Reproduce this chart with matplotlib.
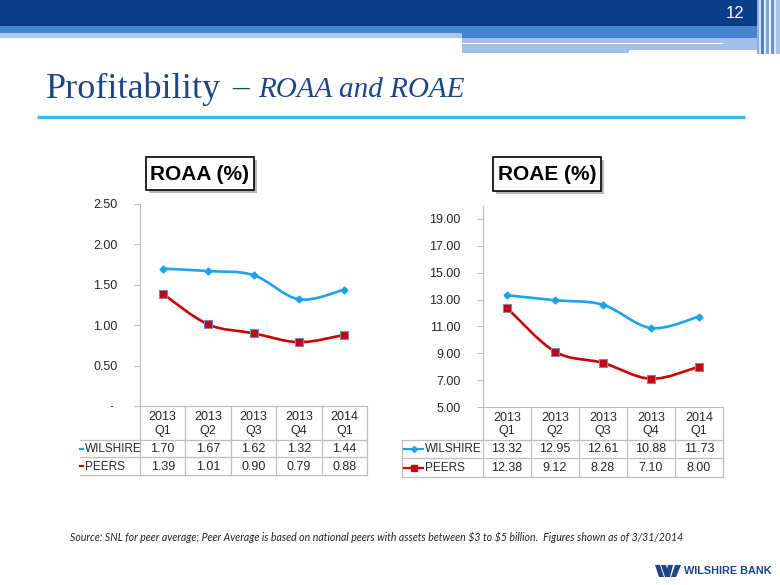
import numpy as np
import matplotlib
matplotlib.use('Agg')
import matplotlib.pyplot as plt
from matplotlib.path import Path
from matplotlib.patches import PathPatch, Rectangle, Polygon

# chart data
quarters = ['2013\nQ1', '2013\nQ2', '2013\nQ3', '2013\nQ4', '2014\nQ1']
series_names = ['WILSHIRE', 'PEERS']
roaa_wilshire = [1.70, 1.67, 1.62, 1.32, 1.44]
roaa_peers = [1.39, 1.01, 0.90, 0.79, 0.88]
roae_wilshire = [13.32, 12.95, 12.61, 10.88, 11.73]
roae_peers = [12.38, 9.12, 8.28, 7.10, 8.00]
roaa_ticks = [0, 0.5, 1.0, 1.5, 2.0, 2.5]
roaa_ticklabels = ['- ', '0.50', '1.00', '1.50', '2.00', '2.50']
roae_ticks = [5, 7, 9, 11, 13, 15, 17, 19]
roae_ticklabels = ['%.2f' % t for t in roae_ticks]

SANS = 'Liberation Sans'
BLUE = '#1ea2e8'
RED = '#c8000a'
GRID = '#bfbfbf'
TXT = '#262626'
NAVY = '#1c4587'

W, H = 780, 585
fig = plt.figure(figsize=(7.8, 5.85), dpi=100)
ov = fig.add_axes([0, 0, 1, 1], zorder=0)
ov.set_xlim(0, W)
ov.set_ylim(H, 0)
ov.axis('off')

# header banner
ov.add_patch(Rectangle((0, 0), 780, 26, color='#0b3d88', lw=0))
ov.add_patch(Rectangle((0, 26), 780, 7, color='#4683d1', lw=0))
ov.add_patch(Rectangle((0, 33), 462, 5, color='#a9c6ec', lw=0))
ov.add_patch(Rectangle((462, 33), 318, 5, color='#4683d1', lw=0))
ov.add_patch(Rectangle((462, 38), 167, 15, color='#a2c0ea', lw=0))
ov.add_patch(Rectangle((629, 38), 136, 12, color='#a2c0ea', lw=0))
ov.add_patch(Rectangle((462, 42.5), 261, 1.8, color='white', lw=0))
for x, w, c in [(757, 2, '#8fb0dd'), (759, 2, '#d5e2f4'), (761, 3, '#4f7fc4'),
                (764, 2, '#e3ecf8'), (766, 3, '#7fa3d8'), (769, 2, '#f2f6fc'),
                (771, 3, '#6b95d0'), (774, 2, '#dfe8f6'), (776, 4, '#a9c2e6')]:
    ov.add_patch(Rectangle((x, 0), w, 54, color=c, lw=0))
ov.text(735, 14, '12', color='white', fontsize=12, family=SANS,
        ha='center', va='center')

# slide title
ov.text(46, 98, 'Profitability', color=NAVY, fontsize=26,
        family='Liberation Serif', ha='left', va='baseline')
ov.text(241, 97, '\u2013', color=NAVY, fontsize=24,
        family='Liberation Serif', ha='center', va='baseline')
ov.text(258, 97, 'ROAA and ROAE', color=NAVY, fontsize=21, style='italic',
        family='Liberation Serif', ha='left', va='baseline')
ov.plot([37, 745], [117, 117], color='#3db5f2', lw=2.4, solid_capstyle='butt')


def smooth_path(xs, ys):
    pts = np.column_stack([xs, ys]).astype(float)
    ext = np.vstack([pts[0], pts, pts[-1]])
    verts = [pts[0]]
    codes = [Path.MOVETO]
    for i in range(len(pts) - 1):
        p0, p1, p2, p3 = ext[i], ext[i + 1], ext[i + 2], ext[i + 3]
        verts += [p1 + (p2 - p0) / 6, p2 - (p3 - p1) / 6, p2]
        codes += [Path.CURVE4] * 3
    return Path(verts, codes)


def draw_chart(box, ylim, ticks, ticklabels, wil, peers, rows, label_x, left_edge, boxed,
               title, title_box):
    x0, y0, x1, y1 = box
    ax = fig.add_axes([x0 / W, 1 - y1 / H, (x1 - x0) / W, (y1 - y0) / H], zorder=2)
    ax.patch.set_alpha(0)
    ax.set_xlim(-0.5, 4.5)
    ax.set_ylim(*ylim)
    for s in ['top', 'right']:
        ax.spines[s].set_visible(False)
    ax.spines['left'].set_color(GRID)
    ax.spines['bottom'].set_color(GRID)
    ax.set_xticks([])
    ax.set_yticks(ticks)
    ax.set_yticklabels(ticklabels, family=SANS, fontsize=9, color=TXT)
    ax.tick_params(axis='y', direction='out', length=4, color=GRID, pad=12)

    xs = np.arange(len(quarters))
    ax.add_patch(PathPatch(smooth_path(xs, wil), fill=False, ec=BLUE, lw=1.9))
    ax.add_patch(PathPatch(smooth_path(xs, peers), fill=False, ec=RED, lw=1.9))
    ax.plot(xs, wil, ls='none', marker='D', ms=3.5, color=BLUE, mec=BLUE)
    ax.plot(xs, peers, ls='none', marker='s', ms=5.5, color=RED, mec='#7f80c0', mew=0.8)

    # data table under the plot
    cols = np.linspace(x0, x1, len(quarters) + 1)
    ya, yh, yr1, yr2 = rows
    for y in [yh, yr1, yr2]:
        ov.plot([left_edge, x1], [y, y], color=GRID, lw=0.9)
    for c in cols:
        ov.plot([c, c], [ya, yr2], color=GRID, lw=0.9)
    if boxed:
        ov.plot([left_edge, left_edge], [yh, yr2], color=GRID, lw=0.9)
    for i, q in enumerate(quarters):
        cx = (cols[i] + cols[i + 1]) / 2
        ov.text(cx, (ya + yh) / 2 + 1, q, ha='center', va='center', family=SANS,
                fontsize=9, color=TXT, linespacing=1.15)
        ov.text(cx, (yh + yr1) / 2 + 0.5, '%.2f' % wil[i], ha='center', va='center',
                family=SANS, fontsize=9, color=TXT)
        ov.text(cx, (yr1 + yr2) / 2 + 0.5, '%.2f' % peers[i], ha='center', va='center',
                family=SANS, fontsize=9, color=TXT)
    for name, yc, col, mk, ms in [(series_names[0], (yh + yr1) / 2, BLUE, 'D', 3),
                                  (series_names[1], (yr1 + yr2) / 2, RED, 's', 4.5)]:
        lx0 = max(label_x - 21, left_edge)
        lx1 = label_x - 2
        ov.plot([lx0, lx1], [yc, yc], color=col, lw=1.6)
        mx = label_x - 11
        if mx > left_edge:
            ov.plot([mx], [yc], marker=mk, ms=ms, color=col, mec=col)
        ov.text(label_x, yc + 0.5, name, ha='left', va='center', family=SANS,
                fontsize=8.5, color=TXT)

    # chart title box with shadow
    bx0, by0, bx1, by1 = title_box
    ov.add_patch(Rectangle((bx0 + 3, by0 + 3), bx1 - bx0, by1 - by0, color='#9a9a9a',
                           lw=0, alpha=0.7))
    ov.add_patch(Rectangle((bx0, by0), bx1 - bx0, by1 - by0, fc='white', ec='black',
                           lw=1.2))
    ov.text((bx0 + bx1) / 2, (by0 + by1) / 2 + 1, title, ha='center', va='center',
            family=SANS, fontsize=15, fontweight='bold', color='black')
    return ax


draw_chart((140, 204, 367, 406), (0, 2.5), roaa_ticks, roaa_ticklabels,
           roaa_wilshire, roaa_peers, (406, 440, 457, 475), 85, 80, False,
           'ROAA (%)', (146, 157, 254, 190))
draw_chart((483, 205.5, 723, 407), (5, 20), roae_ticks, roae_ticklabels,
           roae_wilshire, roae_peers, (407, 440, 458, 477), 425, 402, True,
           'ROAE (%)', (493, 157, 601, 191))

# footnote
ov.text(70, 537, 'Source: SNL for peer average; Peer Average is based on national peers '
        'with assets between \\$3 to \\$5 billion.  Figures shown as of 3/31/2014',
        ha='left', va='center', fontsize=7.6, style='italic', family='Lato', color='#222222')

# logo
for pts in [[(655, 565), (660, 565), (664, 577), (659, 577)],
            [(661, 565), (666, 565), (670, 577), (665, 577)],
            [(668, 565), (673, 565), (670, 577), (665, 577)],
            [(675, 565), (681, 565), (676, 577), (671, 577)]]:
    ov.add_patch(Polygon(pts, closed=True, color=NAVY, lw=0))
ov.text(684, 571.5, 'WILSHIRE BANK', ha='left', va='center', fontsize=7.8,
        fontweight='bold', family=SANS, color=NAVY)

fig.savefig('out.png', dpi=100, facecolor='white')
